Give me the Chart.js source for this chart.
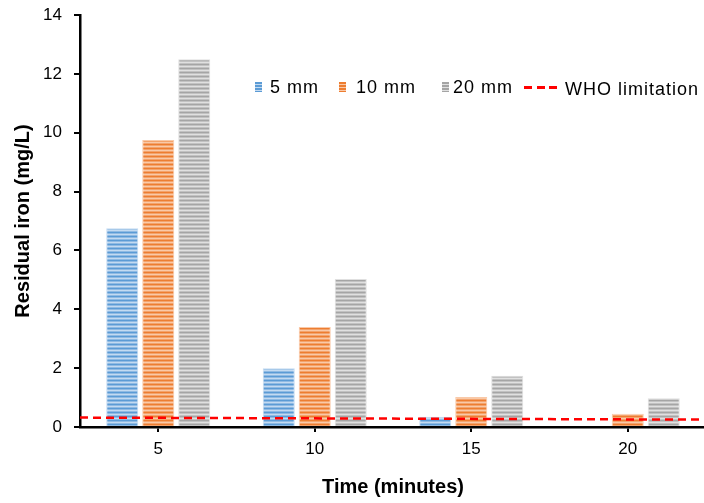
<!DOCTYPE html>
<html>
<head>
<meta charset="utf-8">
<script src="https://cdn.jsdelivr.net/npm/chart.js@4"></script>
<style>
html, body { margin: 0; padding: 0; overflow: hidden; background: #fff; }
#wrap { position: relative; width: 708px; height: 503px; }
#legend { position: absolute; left: 0; top: 0; font-family: "Liberation Sans", Arial, sans-serif; font-size: 18px; letter-spacing: 1px; color: #000; }
#legend span { position: absolute; white-space: nowrap; }
</style>
</head>
<body>
<div id="wrap">
  <canvas id="myChart"></canvas>
  <div id="legend"></div>
</div>
<script>
// chart values
var timeValues = [5, 10, 15, 20];      // minutes (x categories)
var timeRange = [2.5, 22.5];           // x axis ends
var seriesNames = ["5 mm", "10 mm", "20 mm"];
var iron5mm = [6.75, 2.0, 0.35, 0];
var iron10mm = [9.75, 3.4, 1.02, 0.45];
var iron20mm = [12.5, 5.03, 1.74, 0.98];
var whoName = "WHO limitation";
var whoLimit = [0.32, 0.25]; // left end, right end
var yTicks = [0, 2, 4, 6, 8, 10, 12, 14];

var baseColors = ["#5B9BD5", "#ED7D31", "#A5A5A5"];
var lightColors = ["#C3DAF1", "#F9C9A8", "#E0E0E0"];

// horizontal stripe fill like the original
function stripes(base, light) {
    var c = document.createElement("canvas");
    c.width = 4; c.height = 4;
    var g = c.getContext("2d");
    g.fillStyle = base;
    g.fillRect(0, 0, 4, 4);
    g.fillStyle = light;
    g.fillRect(0, 2, 4, 1);
    g.globalAlpha = 0.5;
    g.fillRect(0, 1, 4, 1);
    g.fillRect(0, 3, 4, 1);
    return g.createPattern(c, "repeat");
}

var font = '"Liberation Sans", Arial, sans-serif';
var seriesData = [iron5mm, iron10mm, iron20mm];

var datasets = [];
for (var i = 0; i < seriesNames.length; i++) {
    datasets.push({
        label: seriesNames[i],
        data: timeValues.map(function (t, k) { return {x: t, y: seriesData[i][k]}; }),
        backgroundColor: stripes(baseColors[i], lightColors[i]),
        borderColor: lightColors[i],
        borderWidth: {left: 1, right: 1, top: 1, bottom: 0},
        order: 1
    });
}
datasets.push({
    type: "line",
    label: whoName,
    data: [{x: timeRange[0], y: whoLimit[0]}, {x: timeRange[1], y: whoLimit[1]}],
    borderColor: "#FF0000",
    borderWidth: 2.5,
    borderDash: [8, 5],
    pointRadius: 0,
    fill: false,
    order: 0
});

var chart = new Chart(document.getElementById("myChart"), {
    type: "bar",
    data: { datasets: datasets },
    options: {
        responsive: true,
        maintainAspectRatio: false,
        animation: false,
        categoryPercentage: 0.69,
        barPercentage: 0.89,
        layout: { padding: { top: 15, right: 2, left: 0, bottom: 0 } },
        plugins: { legend: { display: false }, tooltip: { enabled: false } },
        scales: {
            x: {
                type: "linear",
                min: timeRange[0], max: timeRange[1],
                offset: false,
                afterBuildTicks: function (s) { s.ticks = timeValues.map(function (v) { return {value: v}; }); },
                grid: { display: true, offset: false, drawOnChartArea: false, tickLength: 5, color: "#000", lineWidth: 2 },
                border: { display: true, color: "#000", width: 2.5 },
                ticks: { color: "#000", padding: 7, font: { family: font, size: 17 } },
                title: { display: true, text: "Time (minutes)", color: "#000", padding: 0,
                         font: { family: font, size: 20, weight: "bold", lineHeight: 1.6 } },
                afterFit: function (s) { s.height = 76; }
            },
            y: {
                min: 0, max: 14,
                afterBuildTicks: function (s) { s.ticks = yTicks.map(function (v) { return {value: v}; }); },
                grid: { display: true, drawOnChartArea: false, tickLength: 6, color: "#000", lineWidth: 2 },
                border: { display: true, color: "#000", width: 2.5 },
                ticks: { color: "#000", padding: 12, font: { family: font, size: 17 } },
                title: { display: true, text: "Residual iron (mg/L)", color: "#000", padding: 0,
                         font: { family: font, size: 20, weight: "bold", lineHeight: 2.3 } },
                afterFit: function (s) { s.width = 80; s.paddingTop = 0; }
            }
        }
    }
});

// legend in the plot, as in the original
var legend = document.getElementById("legend");
var boxLeft = [255, 339, 442];
var textLeft = [270, 356, 453];
for (var j = 0; j < seriesNames.length; j++) {
    var sw = document.createElement("span");
    sw.style.cssText = "left:" + boxLeft[j] + "px;top:82px;width:7px;height:10px;background:repeating-linear-gradient(" +
        baseColors[j] + " 0 2px," + lightColors[j] + " 2px 3px)";
    legend.appendChild(sw);
    var tx = document.createElement("span");
    tx.style.cssText = "left:" + textLeft[j] + "px;top:76px;line-height:22px";
    tx.textContent = seriesNames[j];
    legend.appendChild(tx);
}
for (var k = 0; k < 3; k++) {
    var d = document.createElement("span");
    d.style.cssText = "left:" + (524 + k * 12.5) + "px;top:86px;width:8px;height:3px;background:#FF0000";
    legend.appendChild(d);
}
var wt = document.createElement("span");
wt.style.cssText = "left:565px;top:78px;line-height:22px";
wt.textContent = whoName;
legend.appendChild(wt);
</script>
</body>
</html>
